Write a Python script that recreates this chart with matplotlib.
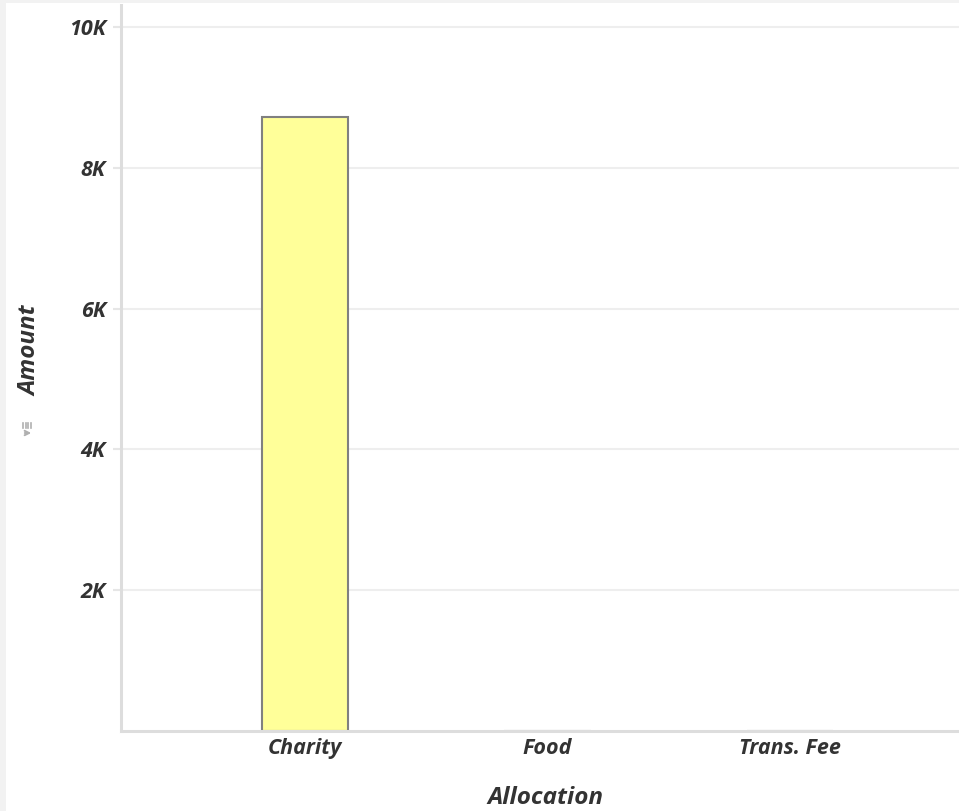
# -*- coding: utf-8 -*-

import matplotlib
matplotlib.use('Agg')
import matplotlib.pyplot as plt
from matplotlib.lines import Line2D
from matplotlib.patches import Rectangle, FancyArrowPatch
from matplotlib.ticker import FuncFormatter

categories = ['Charity', 'Food', 'Trans. Fee']
amounts = [8725, 0, 0]
y_ticks = [2000, 4000, 6000, 8000, 10000]

W, H = 959, 811
TEXT = '#333333'
FONT = ['Open Sans', 'DejaVu Sans']


def k_format(v, pos):
    return '%dK' % (v / 1000)


def px(x, y):
    # pixel position from the top-left corner -> figure fraction
    return x / W, 1 - y / H


def draw_sort_icon(fig):
    for i in range(4):
        x0, y0 = px(23 + i * 2.6, 423)
        x1, y1 = px(23 + i * 2.6, 428)
        fig.add_artist(Line2D([x0, x1], [y0, y1], transform=fig.transFigure,
                              color='#b0b0b0', linewidth=1.2))
    arrow = FancyArrowPatch(px(22, 433), px(34, 433), transform=fig.transFigure,
                            arrowstyle='->', mutation_scale=8, color='#b0b0b0',
                            linewidth=1.4)
    fig.add_artist(arrow)


def draw():
    fig = plt.figure(figsize=(W / 100, H / 100), dpi=100, facecolor='#f2f2f2')
    bg = Rectangle((6 / W, 0), 1, 1 - 3 / H, transform=fig.transFigure,
                   facecolor='white', edgecolor='none', zorder=-10)
    fig.add_artist(bg)

    ax = fig.add_axes([121 / W, (H - 731) / H, (W - 121) / W, 726 / H])
    ax.set_zorder(1)
    ax.set_facecolor('none')
    x = list(range(len(categories)))
    ax.bar(x, amounts, width=0.355, color='#ffff99', edgecolor='#808080',
           linewidth=1.5, zorder=2)

    ax.set_xlim(-0.759, 2.697)
    ax.set_ylim(0, 10316)
    ax.set_xticks(x)
    ax.set_xticklabels(categories)
    ax.set_yticks(y_ticks)
    ax.yaxis.set_major_formatter(FuncFormatter(k_format))

    ax.grid(axis='y', color='#eeeeee', linewidth=1.5, zorder=0)
    ax.set_axisbelow(True)
    for side in ['top', 'right']:
        ax.spines[side].set_visible(False)
    for side in ['left', 'bottom']:
        ax.spines[side].set_color('#dddddd')
        ax.spines[side].set_linewidth(2.2)
        ax.spines[side].set_zorder(3)

    ax.tick_params(axis='y', length=6, width=1.5, color='#e6e6e6', pad=5,
                   labelsize=15.5, labelcolor=TEXT)
    ax.tick_params(axis='x', length=0, pad=5, labelsize=15.5, labelcolor=TEXT)
    for lab in ax.get_xticklabels() + ax.get_yticklabels():
        lab.set_family(FONT)
        lab.set_style('italic')
        lab.set_weight('bold')

    fig.text(*px(545, 798), 'Allocation', family=FONT, style='italic',
             weight='bold', fontsize=17.5, color=TEXT, ha='center', va='center')
    fig.text(*px(30, 351), 'Amount', family=FONT, style='italic',
             weight='bold', fontsize=17.5, color=TEXT, ha='center', va='center',
             rotation=90)
    draw_sort_icon(fig)

    fig.savefig('out.png', dpi=100, facecolor=fig.get_facecolor())
    plt.close('all')


if __name__ == "__main__":
    draw()
